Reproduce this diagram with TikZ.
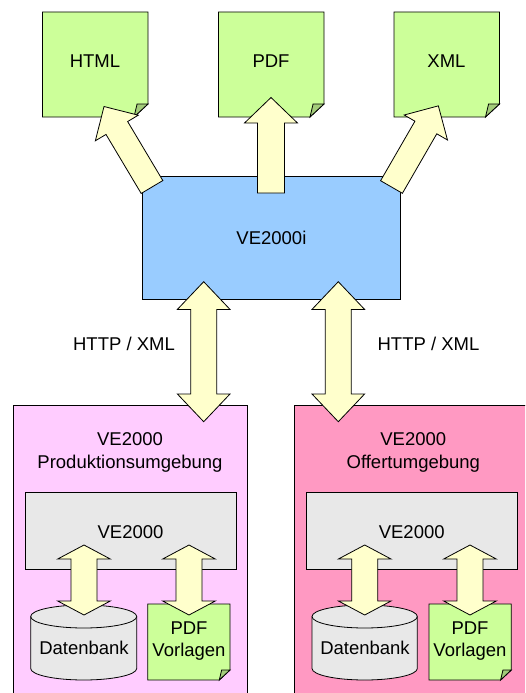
\documentclass[tikz,border=0pt]{standalone}
\usepackage{fontspec}
\setmainfont{Liberation Sans}
\definecolor{docgreen}{RGB}{204,255,153}
\definecolor{foldgreen}{RGB}{163,204,122}
\definecolor{blubox}{RGB}{153,204,255}
\definecolor{pinkA}{RGB}{255,204,255}
\definecolor{pinkB}{RGB}{255,153,194}
\definecolor{grayb}{RGB}{232,232,232}
\definecolor{arrowy}{RGB}{255,255,204}
\tikzset{
  x=1pt,y=-1pt,
  every node/.style={font=\fontsize{18.5}{22.6}\selectfont,text=black,align=center,inner sep=0pt},
  outl/.style={draw=black,line width=0.8pt,line join=miter},
  boxn/.style={outl,rectangle,anchor=north west},
  blockarrow/.style={outl,fill=arrowy}
}
% document shape: x0, y0, x1, y1, fold w, fold h
\newcommand{\docshape}[6]{%
  \draw[outl,fill=docgreen] (#1,#2) -- (#3,#2) -- (#3,#4-#6) -- (#3-#5,#4) -- (#1,#4) -- cycle;
  \draw[outl,fill=foldgreen] (#3,#4-#6) -- (#3-#5*0.78,#4-#6) -- (#3-#5,#4) -- cycle;
}
% single block arrow: tail coordinate, angle, length, shaft half, head half, head length
\newcommand{\singlearrow}[6]{%
  \begin{scope}[shift={(#1)},rotate=#2]
  \draw[blockarrow] (0,#4) -- (#3-#6,#4) -- (#3-#6,#5) -- (#3,0) -- (#3-#6,-#5)
     -- (#3-#6,-#4) -- (0,-#4) -- cycle;
  \end{scope}
}
% vertical double block arrow: cx, top, bottom, head length
\newcommand{\doublearrow}[4]{%
  \draw[blockarrow]
    (#1,#2) -- (#1+26.3,#2+#4) -- (#1+13,#2+#4) -- (#1+13,#3-#4) -- (#1+26.3,#3-#4)
    -- (#1,#3) -- (#1-26.3,#3-#4) -- (#1-13,#3-#4) -- (#1-13,#2+#4) -- (#1-26.3,#2+#4) -- cycle;
}
% cylinder: x0, x1
\newcommand{\cyl}[2]{%
  \draw[outl,fill=grayb] (#1,616.5) arc[x radius={(#2-#1)/2},y radius=11.5,start angle=180,end angle=360]
     -- (#2,668.5) arc[x radius={(#2-#1)/2},y radius=11.5,start angle=0,end angle=180] -- cycle;
  \draw[outl] (#1,616.5) arc[x radius={(#2-#1)/2},y radius=11.5,start angle=180,end angle=0];
}
\begin{document}
\begin{tikzpicture}
\useasboundingbox (0,0) rectangle (525,693);
\clip (0,0) rectangle (525,693);
% output documents
\docshape{42.5}{12}{148}{117}{14}{13}
\docshape{218.5}{12}{324}{117}{14}{13}
\docshape{394}{12}{499.5}{117}{14}{13}
\node (html) at (95,61) {HTML};
\node (pdf) at (271,61) {PDF};
\node (xml) at (446.5,61) {XML};
% central box
\node[boxn,fill=blubox,minimum width=258pt,minimum height=123pt] (ve) at (142,176) {};
\node (velabel) at (ve.center) {VE2000i};
\coordinate (t1) at (152,187);
\coordinate (t2) at (271,193);
\coordinate (t3) at (391.5,187);
\singlearrow{t1}{120.8}{93.7}{12.6}{25}{25}
\singlearrow{t2}{90}{95.5}{13.5}{26.5}{25.5}
\singlearrow{t3}{60}{93.7}{12.6}{25}{25}
% environment boxes
\node[boxn,fill=pinkA,minimum width=234.2pt,minimum height=300pt] (prod) at (13.2,404.7) {};
\node[boxn,fill=pinkB,minimum width=240pt,minimum height=300pt] (off) at (294.3,404.7) {};
\doublearrow{203.7}{281.7}{421.7}{27.7}
\doublearrow{338.3}{281.7}{421.7}{27.7}
\node (hl) at (124,344) {HTTP / XML};
\node (hr) at (428.5,344) {HTTP / XML};
\node (pt) at (130,452.5) {VE2000\\Produktionsumgebung};
\node (ot) at (413.3,452.5) {VE2000\\Offertumgebung};
% left inner
\node[boxn,fill=grayb,minimum width=211pt,minimum height=76.5pt] (g1) at (25,492.3) {};
\node (g1l) at (130.5,532) {VE2000};
\cyl{30.7}{136.7}
\node (db1) at (84,648) {Datenbank};
\docshape{147.7}{604}{230}{680}{10.7}{10}
\node (vt1) at (189,641) {PDF\\Vorlagen};
\doublearrow{84}{545}{615}{14}
\doublearrow{189}{545}{615}{14}
% right inner
\node[boxn,fill=grayb,minimum width=211.3pt,minimum height=76.5pt] (g2) at (306,492.3) {};
\node (g2l) at (411.7,532) {VE2000};
\cyl{312}{417.3}
\node (db2) at (365,648) {Datenbank};
\docshape{429}{604}{511.3}{680}{10.7}{10}
\node (vt2) at (470,641) {PDF\\Vorlagen};
\doublearrow{364.7}{545}{615}{14}
\doublearrow{470}{545}{615}{14}
\end{tikzpicture}
\end{document}
